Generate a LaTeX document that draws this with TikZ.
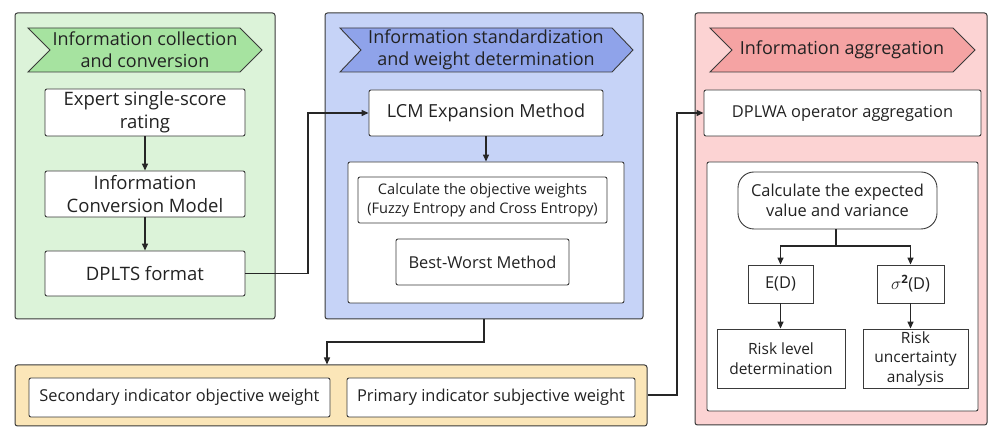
\documentclass[tikz,border=0pt]{standalone}
\usepackage{fontspec}
\setmainfont{Open Sans}
\usetikzlibrary{arrows.meta}
\definecolor{gpan}{HTML}{DCF3D9}
\definecolor{gban}{HTML}{A6E3A0}
\definecolor{bpan}{HTML}{C6D3F7}
\definecolor{bban}{HTML}{8FA3EA}
\definecolor{rpan}{HTML}{FCD3D3}
\definecolor{rban}{HTML}{F5A3A3}
\definecolor{ypan}{HTML}{FBE6B8}
\definecolor{edge}{HTML}{3A3A3A}
\definecolor{ink}{HTML}{222222}
\tikzset{
  panel/.style={draw=edge, line width=1pt, rounded corners=2.5pt},
  banner/.style={draw=edge, line width=0.9pt},
  wbox/.style={draw=edge, fill=white, line width=0.9pt, rounded corners=2pt, align=center, inner sep=0pt, text=ink},
  tban/.style={font=\fontsize{18}{22}\selectfont, text=ink, align=center, inner sep=0pt},
  tbig/.style={font=\fontsize{18.5}{23}\selectfont},
  tmid/.style={font=\fontsize{16.4}{20}\selectfont},
  trisk/.style={font=\fontsize{15.5}{19.5}\selectfont},
  tsml/.style={font=\fontsize{14.6}{19}\selectfont},
  arr/.style={-{Triangle[length=7pt,width=6pt]}, line width=1.4pt, draw=black!85},
  conn/.style={line width=1.4pt, draw=black!85}
}
\begin{document}
\begin{tikzpicture}[x=1pt,y=-1pt]
\useasboundingbox (0,0) rectangle (989,427);
% ---------- green panel
\node[panel, fill=gpan, minimum width=260pt, minimum height=306pt] (gp) at (145,166) {};
\draw[banner, fill=gban] (28,28) -- (240,28) -- (262,50) -- (240,72) -- (28,72) -- (50,50) -- cycle;
\node[tban] (gt) at (145,50) {Information collection\\and conversion};
\node[wbox, tbig, minimum width=200pt, minimum height=47pt] (exp) at (145,112.5) {Expert single-score\\rating};
\node[wbox, tbig, minimum width=200pt, minimum height=46pt] (icm) at (145,194) {Information\\Conversion Model};
\node[wbox, tbig, minimum width=200pt, minimum height=45pt] (dplts) at (145,273.5) {DPLTS format};
% ---------- blue panel
\node[panel, fill=bpan, minimum width=318pt, minimum height=306pt] (bp) at (484,166) {};
\draw[banner, fill=bban] (340,28) -- (612,28) -- (633,50) -- (612,72) -- (340,72) -- (361,50) -- cycle;
\node[tban] (bt) at (486,50) {Information standardization\\and weight determination};
\node[wbox, font=\fontsize{18}{22}\selectfont, minimum width=234pt, minimum height=46pt] (lcm) at (486,113) {LCM Expansion Method};
\node[wbox, minimum width=276pt, minimum height=141pt] (wgt) at (486,232.5) {};
\node[wbox, tsml, minimum width=249pt, minimum height=46pt] (obj) at (482.5,200) {Calculate the objective weights\\(Fuzzy Entropy and Cross Entropy)};
\node[wbox, tmid, minimum width=173pt, minimum height=46pt] (bwm) at (482.5,262) {Best-Worst Method};
% ---------- yellow panel
\node[panel, fill=ypan, minimum width=632pt, minimum height=61pt] (yp) at (331,395.5) {};
\node[wbox, tmid, minimum width=301pt, minimum height=39pt] (sec) at (179.5,397.5) {Secondary indicator objective weight};
\node[wbox, tmid, minimum width=288pt, minimum height=39pt] (pri) at (491,397.5) {Primary indicator subjective weight};
% ---------- red panel
\node[panel, fill=rpan, minimum width=292pt, minimum height=412pt] (rp) at (841,219) {};
\draw[banner, fill=rban] (710,28) -- (953,28) -- (975,50) -- (953,72) -- (710,72) -- (732,50) -- cycle;
\node[tban] (rt) at (842,50) {Information aggregation};
\node[wbox, tmid, minimum width=277pt, minimum height=46pt] (dplwa) at (842.5,113) {DPLWA operator aggregation};
\node[wbox, minimum width=271pt, minimum height=249pt] (res) at (842.5,286.5) {};
\node[wbox, tmid, rounded corners=16pt, minimum width=199pt, minimum height=57pt] (ev) at (837.5,200.5) {Calculate the expected\\value and variance};
\node[wbox, tmid, rounded corners=0pt, minimum width=65pt, minimum height=38pt] (ed) at (780.5,284) {E(D)};
\node[wbox, tmid, rounded corners=0pt, minimum width=67pt, minimum height=38pt] (sd) at (910.5,284) {$\sigma^{\mathbf{2}}$(D)};
\node[wbox, trisk, rounded corners=0pt, minimum width=128pt, minimum height=59pt] (rl) at (781,358.5) {Risk level\\determination};
\node[wbox, trisk, rounded corners=0pt, minimum width=105pt, minimum height=59pt] (ru) at (915.5,358.5) {Risk\\uncertainty\\analysis};
% ---------- connectors
\draw[arr] (exp) -- (icm);
\draw[arr] (icm) -- (dplts);
\coordinate (j1) at (308,273.5);
\draw[arr] (dplts.east) -- (j1) |- (lcm.west);
\draw[arr] (lcm) -- (wgt);
\coordinate (j2) at (484,342);
\coordinate (j3) at (327,342);
\draw[arr] (bp.south -| j2) -- (j2) -- (j3) -- (yp.north -| j3);
\coordinate (j4) at (677,395);
\draw[arr] (yp.east |- j4) -- (j4) |- (dplwa.west);
\coordinate (j5) at (836,246);
\draw[conn] (ev.south -| j5) -- (j5);
\draw[arr] (j5) -| (ed.north);
\draw[arr] (j5) -| (sd.north);
\draw[arr] (ed) -- (ed |- rl.north);
\draw[arr] (sd) -- (sd |- ru.north);
\end{tikzpicture}
\end{document}
